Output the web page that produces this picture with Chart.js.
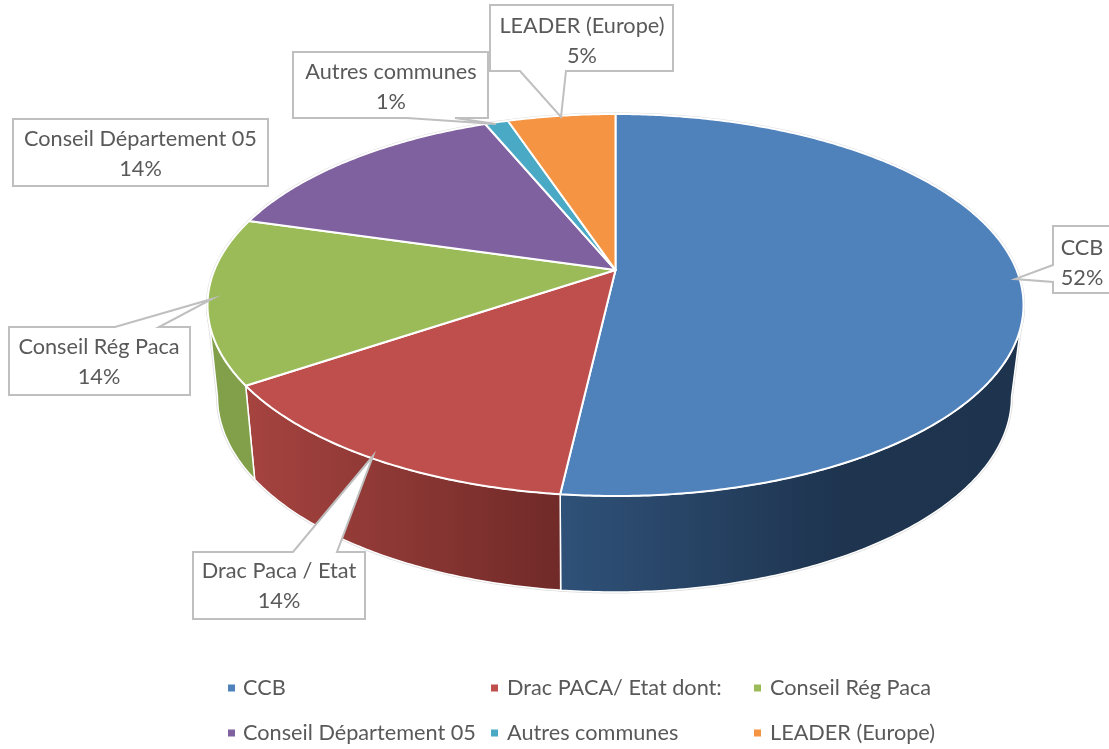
<!DOCTYPE html>
<html lang="fr">
<head>
<meta charset="utf-8">
<style>html,body{margin:0;padding:0;background:#fff}canvas{display:block}</style>
<script src="https://cdn.jsdelivr.net/npm/chart.js@4"></script>
</head>
<body>
<canvas id="c" width="1109" height="749"></canvas>
<script>
const legendLabels = ['CCB','Drac PACA/ Etat dont:','Conseil Rég Paca','Conseil Département 05','Autres communes','LEADER (Europe)'];
const calloutLabels = ['CCB','Drac Paca / Etat','Conseil Rég Paca','Conseil Département 05','Autres communes','LEADER (Europe)'];
const shares = [51.8,13.7,14.0,14.3,1.1,5.1];
const topColors = ['#4f81bb','#bf4f4c','#9bbb59','#8061a0','#4aa9c5','#f59443'];
const wallStops = [
  [[561,'#2f5178'],[840,'#1e344f'],[1025,'#1d334e']],
  [[250,'#a5433f'],[561,'#702a28']],
  [[205,'#829f4a'],[260,'#829f4a']],
  null,null,null
];
// projection of the library's circular pie into the 3D view
const ASPECT = 408/191, APEX = 0.183, BOTTOM = {dx:-1, dy:92, rx:397, ry:195};
const FONT = '21.7px Lato, Carlito, sans-serif', TEXT = '#595959', EDGE = '#bfbfbf', FRINGE = '#dedede';
// callout boxes
const callouts = [
  {box:[1053,226,1112,293], base:[[1053,265],[1053,282]], tip:[1015,279], cx:1082, y:248},
  {box:[193,552,365,619], base:[[293,552],[337,552]], tip:[373,456], cx:279, y:571},
  {box:[9,327,190,395], base:[[115,327],[159,327]], tip:[212,299], cx:99, y:347},
  {box:[13,119,268,186], base:[[268,158],[268,175]], tip:[347,171], cx:140.5, y:139},
  {box:[293,52,488,118], base:[[455,118],[407,118]], tip:[496,124], cx:391, y:72},
  {box:[490,5,673,71], base:[[566,71],[520,71]], tip:[561,117], cx:582, y:26}
];
const legendCols = [[228,243],[491,507],[754,770]], legendRows = [688,733], MARK = 7;

function rim(t){
  const d = 1 - APEX*Math.sin(t);
  return [Math.cos(t)*Math.sqrt(1-APEX*APEX)/d, (Math.sin(t)-APEX)/d];
}
function topPt(arc,t){const [X,Y]=rim(t);return [arc.x+X*arc.outerRadius*ASPECT, arc.y+Y*arc.outerRadius];}
function botPt(arc,t){const [X,Y]=rim(t);return [arc.x+BOTTOM.dx+X*BOTTOM.rx, arc.y+BOTTOM.dy+Y*BOTTOM.ry];}
function samples(a,b){const n=Math.max(2,Math.ceil((b-a)/0.01));const o=[];for(let i=0;i<=n;i++)o.push(a+(b-a)*i/n);return o;}

function wallPath(ctx,arc){
  const lo=Math.asin(APEX), hi=Math.PI-lo;
  const a=Math.max(arc.startAngle,lo), b=Math.min(arc.endAngle,hi);
  if(b<=a) return false;
  const ts=samples(a,b);
  ctx.beginPath();
  ts.forEach((t,k)=>{const p=topPt(arc,t);k?ctx.lineTo(p[0],p[1]):ctx.moveTo(p[0],p[1]);});
  ts.slice().reverse().forEach(t=>{const p=botPt(arc,t);ctx.lineTo(p[0],p[1]);});
  ctx.closePath();
  return true;
}
function topPath(ctx,arc){
  ctx.beginPath();
  ctx.moveTo(arc.x, arc.y - APEX*arc.outerRadius);
  samples(arc.startAngle,arc.endAngle).forEach(t=>{const p=topPt(arc,t);ctx.lineTo(p[0],p[1]);});
  ctx.closePath();
}
function drawWall(ctx,arc,i){
  if(!wallPath(ctx,arc)) return;
  const st=wallStops[i];
  const x0=st[0][0], x1=st[st.length-1][0];
  const g=ctx.createLinearGradient(x0,0,x1,0);
  st.forEach(s=>g.addColorStop((s[0]-x0)/(x1-x0),s[1]));
  ctx.fillStyle=g; ctx.fill();
  ctx.strokeStyle='#fff'; ctx.lineWidth=1.5; ctx.stroke();
}
function drawTop(ctx,arc,i){
  topPath(ctx,arc);
  ctx.fillStyle=topColors[i]; ctx.fill();
  ctx.strokeStyle='#fff'; ctx.lineWidth=2; ctx.lineJoin='round'; ctx.stroke();
}
function drawCallout(ctx,c,i,total){
  const [l,t,r,b]=c.box;
  const [p,q]=c.base;
  ctx.beginPath();
  ctx.moveTo(l,t);
  if(p[1]===t){ctx.lineTo(p[0],p[1]);ctx.lineTo(c.tip[0],c.tip[1]);ctx.lineTo(q[0],q[1]);}
  ctx.lineTo(r,t);
  ctx.lineTo(r,b);
  if(p[1]===b){ctx.lineTo(p[0],p[1]);ctx.lineTo(c.tip[0],c.tip[1]);ctx.lineTo(q[0],q[1]);}
  ctx.lineTo(l,b);
  if(p[0]===l){ctx.lineTo(q[0],q[1]);ctx.lineTo(c.tip[0],c.tip[1]);ctx.lineTo(p[0],p[1]);}
  ctx.closePath();
  ctx.fillStyle='#fff'; ctx.fill();
  ctx.strokeStyle=EDGE; ctx.lineWidth=2; ctx.lineJoin='miter'; ctx.stroke();
  ctx.fillStyle=TEXT; ctx.font=FONT; ctx.textAlign='center'; ctx.textBaseline='middle';
  ctx.fillText(calloutLabels[i],c.cx,c.y);
  ctx.fillText(Math.round(shares[i]/total*100)+'%',c.cx,c.y+30);
}

const pie3d = {
  id:'pie3d',
  beforeDatasetsDraw(chart){
    const ctx=chart.ctx, arcs=chart.getDatasetMeta(0).data;
    ctx.save();
    ctx.strokeStyle=FRINGE; ctx.lineWidth=3; ctx.lineJoin='round';
    arcs.forEach((a,i)=>{
      topPath(ctx,a); ctx.stroke();
      if(wallStops[i] && wallPath(ctx,a)) ctx.stroke();
    });
    arcs.forEach((a,i)=>{ if(wallStops[i]) drawWall(ctx,a,i); });
    arcs.forEach((a,i)=>drawTop(ctx,a,i));
    const total=shares.reduce((s,v)=>s+v,0);
    callouts.forEach((c,i)=>drawCallout(ctx,c,i,total));
    ctx.font=FONT; ctx.textAlign='left'; ctx.textBaseline='middle';
    legendLabels.forEach((t,i)=>{
      const col=legendCols[i%3], y=legendRows[Math.floor(i/3)];
      ctx.fillStyle=topColors[i]; ctx.fillRect(col[0],y-MARK/2,MARK,MARK);
      ctx.fillStyle=TEXT; ctx.fillText(t,col[1],y);
    });
    ctx.restore();
    return false;
  }
};

new Chart(document.getElementById('c'),{
  type:'pie',
  data:{labels:legendLabels,datasets:[{data:shares,backgroundColor:topColors,borderColor:'#fff',borderWidth:0}]},
  options:{
    responsive:false,animation:false,
    layout:{padding:{left:201,right:79,top:114,bottom:253}},
    plugins:{legend:{display:false},tooltip:{enabled:false}}
  },
  plugins:[pie3d]
});
</script>
</body>
</html>
